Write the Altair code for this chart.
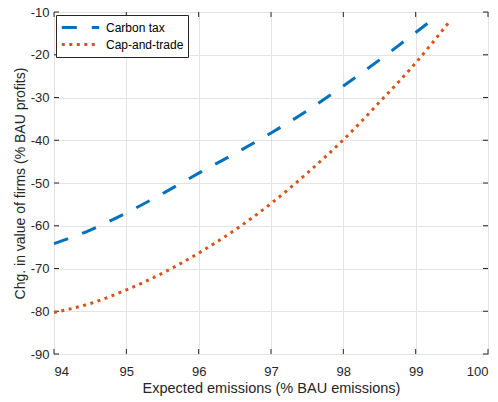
import altair as alt
import pandas as pd

series_names = ["Carbon tax", "Cap-and-trade"]
tax_x = [94.0, 94.5, 95.0, 95.5, 96.0, 96.5, 97.0, 97.5, 98.0, 98.5, 99.0, 99.17]
tax_y = [-64.2, -61.0, -57.0, -52.5, -47.7, -43.1, -38.3, -33.1, -27.3, -21.2, -14.8, -12.6]
cat_x = [94.0, 94.5, 95.0, 95.5, 96.0, 96.5, 97.0, 97.5, 98.0, 98.5, 99.0, 99.46]
cat_y = [-80.3, -78.2, -75.0, -71.1, -66.4, -61.0, -54.8, -47.7, -39.9, -31.1, -21.9, -12.4]
x_ticks = [94, 95, 96, 97, 98, 99, 100]
y_ticks = [-90, -80, -70, -60, -50, -40, -30, -20, -10]
x_title = "Expected emissions (% BAU emissions)"
y_title = "Chg. in value of firms (% BAU profits)"

df = pd.concat([
    pd.DataFrame({"x": tax_x, "y": tax_y, "s": series_names[0]}),
    pd.DataFrame({"x": cat_x, "y": cat_y, "s": series_names[1]}),
])

W, H = 434, 342
FONT = "Liberation Sans"
TXT = "#262626"

xs = alt.Scale(domain=[94, 100], nice=False, zero=False)
ys = alt.Scale(domain=[-90, -10], nice=False, zero=False)
xa = alt.Axis(values=x_ticks, labelExpr="'' + datum.value", title=x_title, titleFontSize=14.5)
ya = alt.Axis(values=y_ticks, labelExpr="'' + datum.value", title=y_title, titleFontSize=14)

lines = alt.Chart(df).mark_line(strokeWidth=3, interpolate="monotone", strokeCap="butt").encode(
    x=alt.X("x:Q", scale=xs, axis=xa),
    y=alt.Y("y:Q", scale=ys, axis=ya),
    color=alt.Color("s:N", sort=series_names,
                    scale=alt.Scale(domain=series_names, range=["#0072BD", "#D95319"]),
                    legend=alt.Legend(title=None, orient="none", legendX=2, legendY=3)),
    strokeDash=alt.StrokeDash("s:N", sort=series_names,
                              scale=alt.Scale(domain=series_names, range=[[15, 15], [3, 4.5]]),
                              legend=alt.Legend(title=None, orient="none", legendX=2, legendY=3)),
)

xt = pd.DataFrame({"v": x_ticks})
yt = pd.DataFrame({"v": y_ticks})
tick_color = TXT
bx = alt.Chart(xt).mark_rule(color=tick_color, strokeWidth=1).encode(
    x=alt.X("v:Q", scale=xs, axis=xa), y=alt.value(H), y2=alt.value(H - 5))
tx = alt.Chart(xt).mark_rule(color=tick_color, strokeWidth=1).encode(
    x=alt.X("v:Q", scale=xs, axis=xa), y=alt.value(0), y2=alt.value(5))
ly = alt.Chart(yt).mark_rule(color=tick_color, strokeWidth=1).encode(
    y=alt.Y("v:Q", scale=ys, axis=ya), x=alt.value(0), x2=alt.value(5))
ry = alt.Chart(yt).mark_rule(color=tick_color, strokeWidth=1).encode(
    y=alt.Y("v:Q", scale=ys, axis=ya), x=alt.value(W), x2=alt.value(W - 5))

chart = alt.layer(bx, tx, ly, ry, lines).properties(
    width=W, height=H,
    autosize=alt.AutoSizeParams(type="none"),
    padding={"left": 54, "top": 12, "right": 10, "bottom": 48},
).configure_view(
    stroke=TXT, strokeWidth=1
).configure_axis(
    domain=False, ticks=False, grid=True, gridColor="#e3e3e3", gridWidth=1,
    labelFont=FONT, labelFontSize=13, labelColor=TXT,
    titleFont=FONT, titleColor=TXT, titleFontWeight="normal",
).configure_axisX(titlePadding=3, labelPadding=11).configure_axisY(titlePadding=3, labelPadding=5).configure_legend(
    symbolType="stroke", symbolSize=1400, symbolStrokeWidth=3,
    labelFont=FONT, labelFontSize=12, labelColor="black",
    strokeColor=TXT, fillColor="white", padding=4, clipHeight=17,
    labelOffset=5, rowPadding=0, cornerRadius=0,
)

chart.save("out.html", embed_options={"renderer": "svg", "actions": False})
